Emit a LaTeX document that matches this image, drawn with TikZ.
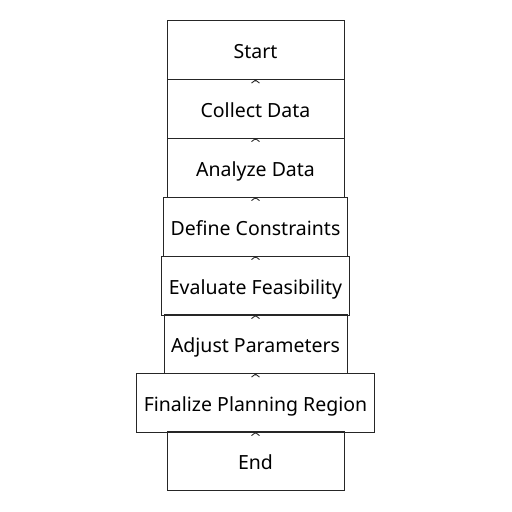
\documentclass[tikz,border=0pt]{standalone}
\usepackage{fontspec}
\setmainfont{Noto Sans}
\usetikzlibrary{arrows.meta}
\begin{document}
\begin{tikzpicture}[x=1pt,y=-1pt,
  stepbox/.style={draw=black!85, line width=0.9pt, minimum width=177pt, minimum height=59pt, inner xsep=7pt, inner ysep=0pt, text height=19pt, text depth=2pt, font=\fontsize{19.5}{23}\selectfont, text=black},
  link/.style={draw=black!85, line width=0.9pt, -{Straight Barb[length=3pt,width=8pt]}, shorten >=29.5pt, shorten <=28pt}]
\useasboundingbox (0,0) rectangle (512,512);
\node[stepbox] (start) at (255.5,50) {Start};
\node[stepbox] (collect) at (255.5,108.5) {Collect Data};
\node[stepbox] (analyze) at (255.5,167.5) {Analyze Data};
\node[stepbox] (define) at (255.5,226.5) {Define Constraints};
\node[stepbox] (evaluate) at (255.5,285.5) {Evaluate Feasibility};
\node[stepbox] (adjust) at (255.5,344) {Adjust Parameters};
\node[stepbox] (finalize) at (255.5,402.5) {Finalize Planning Region};
\node[stepbox] (end) at (255.5,461) {End};
\draw[link] (collect.center) -- (start.center);
\draw[link] (analyze.center) -- (collect.center);
\draw[link] (define.center) -- (analyze.center);
\draw[link] (evaluate.center) -- (define.center);
\draw[link] (adjust.center) -- (evaluate.center);
\draw[link] (finalize.center) -- (adjust.center);
\draw[link] (end.center) -- (finalize.center);
\end{tikzpicture}
\end{document}
